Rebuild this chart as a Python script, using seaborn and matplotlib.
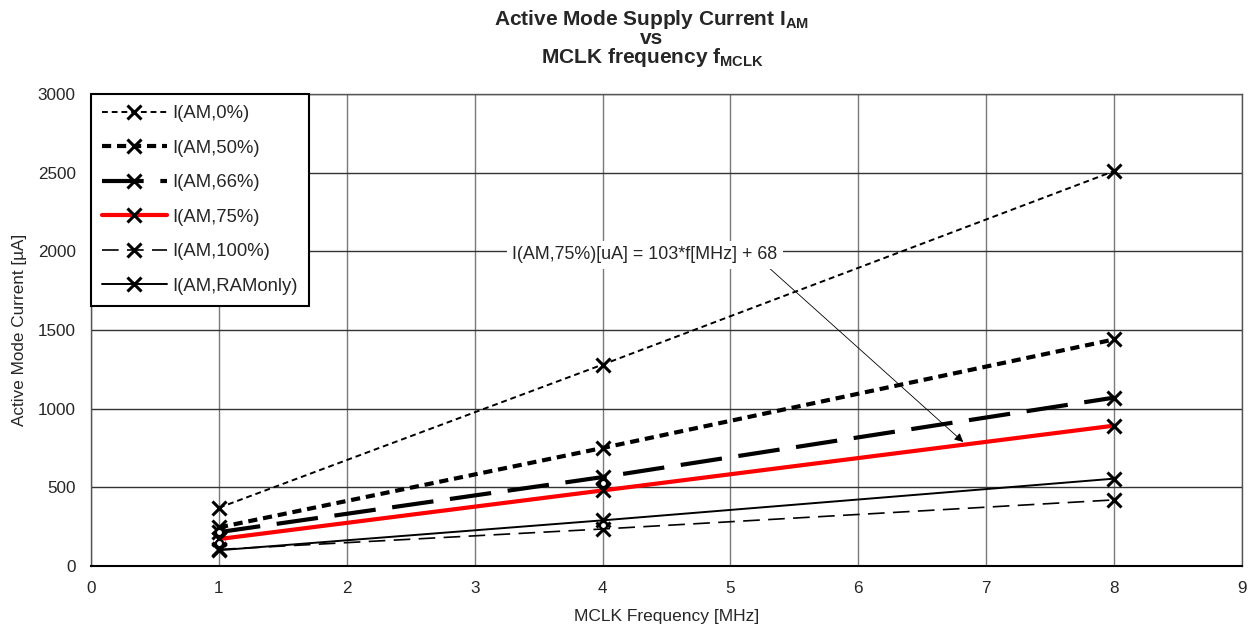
import matplotlib
matplotlib.use("Agg")
import matplotlib.pyplot as plt
import seaborn as sns
import pandas as pd

# data
freq_mhz = [1, 4, 8]
i_am_0 = [370, 1280, 2510]
i_am_50 = [245, 750, 1440]
i_am_66 = [215, 565, 1070]
i_am_75 = [171, 480, 892]
i_am_100 = [105, 235, 420]
i_am_ramonly = [100, 290, 555]

# small open circles visible near some points (unlabelled series)
circle_x = [1, 1, 4, 4]
circle_y = [215, 146, 529, 262]

labels = ["I(AM,0%)", "I(AM,50%)", "I(AM,66%)", "I(AM,75%)", "I(AM,100%)", "I(AM,RAMonly)"]
series = [i_am_0, i_am_50, i_am_66, i_am_75, i_am_100, i_am_ramonly]
styles = [
    dict(color="black", lw=1.4, linestyle=(0, (3, 2))),
    dict(color="black", lw=3.0, linestyle=(0, (2.2, 1.4))),
    dict(color="black", lw=3.0, linestyle=(0, (10, 4))),
    dict(color="#ff0000", lw=3.0, linestyle="-"),
    dict(color="black", lw=1.2, linestyle=(0, (10, 5))),
    dict(color="black", lw=1.4, linestyle="-"),
]

sns.set_style("white")
plt.rcParams["font.family"] = ["Liberation Sans", "DejaVu Sans"]
plt.rcParams["mathtext.fontset"] = "custom"
plt.rcParams["mathtext.rm"] = "Liberation Sans"
plt.rcParams["mathtext.bf"] = "Liberation Sans:bold"

fig = plt.figure(figsize=(12.49, 6.29), dpi=100)
ax = fig.add_axes([0.0729, 0.1002, 0.9215, 0.7504])

for label, vals, st in zip(labels, series, styles):
    df = pd.DataFrame({"f": freq_mhz, "i": vals})
    sns.lineplot(data=df, x="f", y="i", ax=ax, label=label, marker="x",
                 markersize=10, markeredgewidth=2.2, markeredgecolor="black",
                 zorder=3, **st)

ax.plot(circle_x, circle_y, linestyle="none", marker="o", markersize=5,
        markerfacecolor="white", markeredgecolor="black", markeredgewidth=1.5, zorder=4)

ax.set_xlim(0, 9)
ax.set_ylim(0, 3000)
ax.set_xticks(range(0, 10))
ax.set_yticks(range(0, 3001, 500))
ax.tick_params(labelsize=12.3, length=0, pad=11)
ax.xaxis.grid(True, color="#7a7a7a", lw=1)
ax.yaxis.grid(True, color="#333333", lw=1)
ax.set_axisbelow(True)
for sp in ax.spines.values():
    sp.set_color("#555555")
    sp.set_linewidth(1)
ax.spines["bottom"].set_color("black")
ax.spines["bottom"].set_linewidth(1.5)

ax.set_xlabel("MCLK Frequency [MHz]", fontsize=12.5, labelpad=9)
ax.set_ylabel("Active Mode Current [µA]", fontsize=12.3, labelpad=8)

# three title lines placed separately, tight spacing as in the reference
title_lines = ["Active Mode Supply Current I$_{\\mathbf{AM}}$", "vs",
               "MCLK frequency f$_{\\mathbf{MCLK}}$"]
for line, yy in zip(title_lines, [0.9610, 0.9295, 0.9000]):
    fig.text(0.522, yy, line, ha="center", va="baseline", fontsize=15,
             fontweight="bold")

ax.annotate("I(AM,75%)[uA] = 103*f[MHz] + 68", xy=(6.82, 788), xytext=(4.33, 1977),
            ha="center", va="center", fontsize=12.9,
            bbox=dict(boxstyle="square,pad=0.3", fc="white", ec="none"),
            arrowprops=dict(arrowstyle="-|>", color="black", lw=0.6,
                            mutation_scale=13, shrinkA=0, shrinkB=0,
                            relpos=(0.95, 0)))

leg = ax.legend(loc="upper left", bbox_to_anchor=(0, 1), borderaxespad=0,
                fontsize=13.3, handlelength=3.5, labelspacing=0.95,
                borderpad=0.6, handletextpad=0.3, fancybox=False, framealpha=1,
                edgecolor="black")
leg.get_frame().set_linewidth(1.5)

fig.savefig("out.png", dpi=100)
